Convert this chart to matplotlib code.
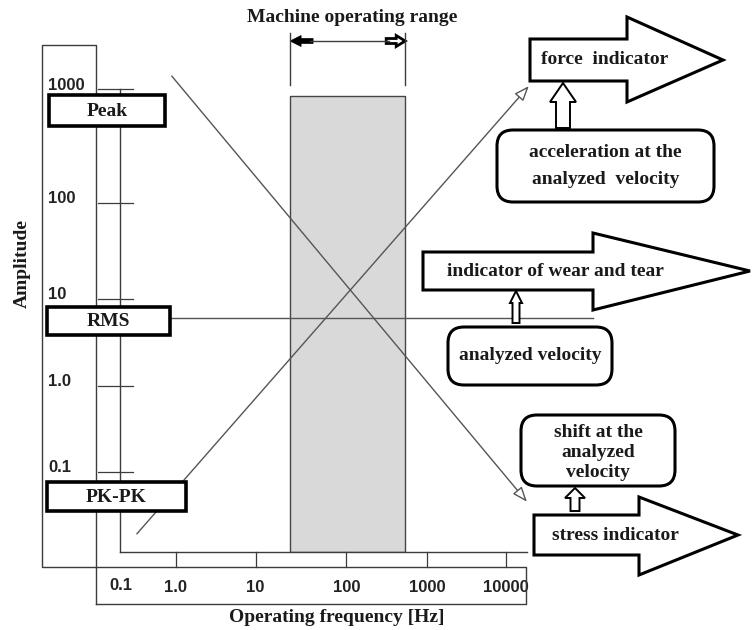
import numpy as np
import matplotlib
matplotlib.use('Agg')
import matplotlib.pyplot as plt
from matplotlib.patches import Polygon, FancyBboxPatch, FancyArrow, Rectangle

# axis values
amp_ticks = [1000, 100, 10, 1.0, 0.1]
amp_labels = ['1000', '100', '10', '1.0', '0.1']
freq_ticks = [1, 10, 100, 1000, 10000]
freq_labels = ['1.0', '10', '100', '1000', '10000']
freq_origin_label = '0.1'
freq_lim = (0.2, 18500)
amp_lim = (0.0117, 1000)

# machine operating range (Hz) and height of the band
machine_range = [24, 535]
machine_top = 870

# level lines
rms_level = 6
rms_freq = [0.2, 1.26e5]
fall_freq = [0.89, 18450]
fall_amp = [1300, 0.045]
rise_freq = [0.325, 19500]
rise_amp = [0.019, 1060]

# the decades of the hand drawn axes are not evenly spaced:
# relative spacing of the decade marks (log10 value -> drawn offset)
X_DECADES = np.array([0, 1, 2, 3, 4])
X_SPACING = np.array([0, 80, 171, 252, 331])
Y_DECADES = np.array([-1, 0, 1, 2, 3])
Y_SPACING = np.array([0, 86, 173, 269, 383])

W, H = 752, 630
LINE = '#3c3c3c'
SERIF = ['Liberation Serif', 'DejaVu Serif']
SANS = ['Liberation Sans', 'DejaVu Sans']


def interp_ext(x, xs, ys):
    x = np.asarray(x, dtype=float)
    out = np.interp(x, xs, ys)
    lo_slope = (ys[1] - ys[0]) / (xs[1] - xs[0])
    hi_slope = (ys[-1] - ys[-2]) / (xs[-1] - xs[-2])
    out = np.where(x < xs[0], ys[0] + (x - xs[0]) * lo_slope, out)
    out = np.where(x > xs[-1], ys[-1] + (x - xs[-1]) * hi_slope, out)
    return out


def make_scale(decades, spacing):
    def fwd(v):
        return interp_ext(np.log10(np.maximum(v, 1e-12)), decades, spacing)

    def inv(t):
        return 10 ** interp_ext(t, spacing, decades)
    return fwd, inv


fig = plt.figure(figsize=(W / 100, H / 100), dpi=100)


def frac(x0, y0, x1, y1):
    return [x0 / W, 1 - y1 / H, (x1 - x0) / W, (y1 - y0) / H]


ax = fig.add_axes(frac(120, 89, 527, 552))
ax.set_xscale('function', functions=make_scale(X_DECADES, X_SPACING))
ax.set_yscale('function', functions=make_scale(Y_DECADES, Y_SPACING))
ax.set_xlim(freq_lim)
ax.set_ylim(amp_lim)
ax.tick_params(which='both', length=0, labelleft=False, labelbottom=False)
ax.patch.set_visible(False)
for s in ['top', 'right']:
    ax.spines[s].set_visible(False)
for s in ['left', 'bottom']:
    ax.spines[s].set_color(LINE)
    ax.spines[s].set_linewidth(1.0)

# gray band
ax.fill_between(machine_range, amp_lim[0], machine_top,
                facecolor='#d9d9d9', edgecolor='#454545', lw=1.0, zorder=1)

# hand drawn ticks
for v, lab in zip(amp_ticks, amp_labels):
    ax.plot([-0.054, 0.032], [v, v], transform=ax.get_yaxis_transform(),
            color=LINE, lw=0.9, clip_on=False)
    ax.annotate(lab, xy=(0, v), xycoords=ax.get_yaxis_transform(),
                xytext=(-72, 4), textcoords='offset pixels', ha='left', va='center',
                family=SANS, weight='bold', fontsize=12, color='#222')
for f, lab in zip(freq_ticks, freq_labels):
    ax.plot([f, f], [0, -0.0324], transform=ax.get_xaxis_transform(),
            color=LINE, lw=0.9, clip_on=False)
    ax.annotate(lab, xy=(f, 0), xycoords=ax.get_xaxis_transform(),
                xytext=(0, -35), textcoords='offset pixels', ha='center', va='center',
                family=SANS, weight='bold', fontsize=12, color='#222')
ax.annotate(freq_origin_label, xy=(0, 0), xycoords='axes fraction',
            xytext=(1, -34), textcoords='offset pixels', ha='center', va='center',
            family=SANS, weight='bold', fontsize=12, color='#222')

# level lines
ax.plot(rms_freq, [rms_level, rms_level], color='#555', lw=1.0, clip_on=False, zorder=2)
arrow_kw = dict(arrowstyle='-|>,head_length=0.9,head_width=0.35', fc='white',
                ec='#555', lw=1.0, shrinkA=0, shrinkB=0)
ax.annotate('', xy=(fall_freq[1], fall_amp[1]), xytext=(fall_freq[0], fall_amp[0]),
            arrowprops=arrow_kw, annotation_clip=False)
ax.annotate('', xy=(rise_freq[1], rise_amp[1]), xytext=(rise_freq[0], rise_amp[0]),
            arrowprops=arrow_kw, annotation_clip=False)

# overlay in pixel units for frames, boxes and block arrows
ov = fig.add_axes([0, 0, 1, 1], zorder=3)
ov.set_xlim(0, W)
ov.set_ylim(H, 0)
ov.axis('off')

frame = np.array([(96, 604), (96, 45), (42, 45), (42, 567), (526, 567), (526, 604), (96, 604)])
ov.plot(frame[:, 0], frame[:, 1], color=LINE, lw=1.0, zorder=1)

txt = dict(family=SERIF, weight='bold', fontsize=14, color='#1a1a1a',
           ha='center', va='center', zorder=5)

ov.text(22, 263, 'Amplitude', rotation=90, **txt)
ov.text(352, 18, 'Machine operating range', **txt)
ov.text(337, 617, 'Operating frequency [Hz]', **txt)

# operating range bracket
px = ov.transData.inverted().transform(
    ax.transData.transform([(f, 1) for f in machine_range]))[:, 0]
for x in px:
    ov.plot([x, x], [33, 85], color=LINE, lw=1.0)
ov.plot([px[0] + 20, px[1] - 16], [41, 41], color=LINE, lw=1.0)
ov.add_patch(FancyArrow(px[0] + 23, 41, -23, 0, width=5, head_width=11, head_length=11,
                        length_includes_head=True, fc='black', ec='black', lw=0.5))
ov.add_patch(FancyArrow(px[1] - 19, 41, 19, 0, width=5, head_width=11, head_length=9,
                        length_includes_head=True, fc='white', ec='black', lw=2.0))

# level boxes
for (x0, y0, x1, y1), name in [((49, 95, 165, 126), 'Peak'),
                                ((47, 307, 170, 335), 'RMS'),
                                ((47, 482, 186, 511), 'PK-PK')]:
    ov.add_patch(Rectangle((x0, y0), x1 - x0, y1 - y0, fc='white', ec='black', lw=2.6, zorder=3))
    ov.text((x0 + x1) / 2, (y0 + y1) / 2 + 1, name, **txt)


def block_arrow(x0, x1, xt, yb0, yb1, yh0, yh1, label, tx):
    ym = (yb0 + yb1) / 2
    pts = [(x0, yb0), (x1, yb0), (x1, yh0), (xt, ym), (x1, yh1), (x1, yb1), (x0, yb1)]
    ov.add_patch(Polygon(pts, closed=True, fc='white', ec='black', lw=2.2,
                         joinstyle='miter', zorder=3))
    ov.text(tx, ym, label, **txt)


def rounded_box(x0, y0, x1, y1, label, ls=1.2, dy=0):
    ov.add_patch(FancyBboxPatch((x0, y0), x1 - x0, y1 - y0,
                                boxstyle='round,pad=0,rounding_size=16',
                                fc='white', ec='black', lw=2.2, zorder=3))
    ov.text((x0 + x1) / 2, (y0 + y1) / 2 + dy, label, linespacing=ls, **txt)


def up_arrow(cx, y_base, y_tip, w, hw, hl):
    ov.add_patch(FancyArrow(cx, y_base, 0, y_tip - y_base, width=w, head_width=hw,
                            head_length=hl, length_includes_head=True,
                            fc='white', ec='black', lw=1.4, zorder=4))


block_arrow(530, 627, 723, 39, 81, 17, 102, 'force  indicator', 605)
up_arrow(563, 128, 83, 14, 26, 19)
rounded_box(497, 130, 714, 202, 'acceleration at the\nanalyzed  velocity', ls=1.75)

block_arrow(423, 593, 750, 252, 290, 233, 310, 'indicator of wear and tear', 555)
up_arrow(516, 323, 291, 7, 12, 12)
rounded_box(448, 327, 612, 385, 'analyzed velocity')

rounded_box(521, 415, 675, 486, 'shift at the\nanalyzed\nvelocity', ls=1.2, dy=2)
up_arrow(575, 511, 488, 9, 20, 10)
block_arrow(534, 639, 738, 515, 555, 497, 575, 'stress indicator', 615)

fig.savefig('out.png', dpi=100)
